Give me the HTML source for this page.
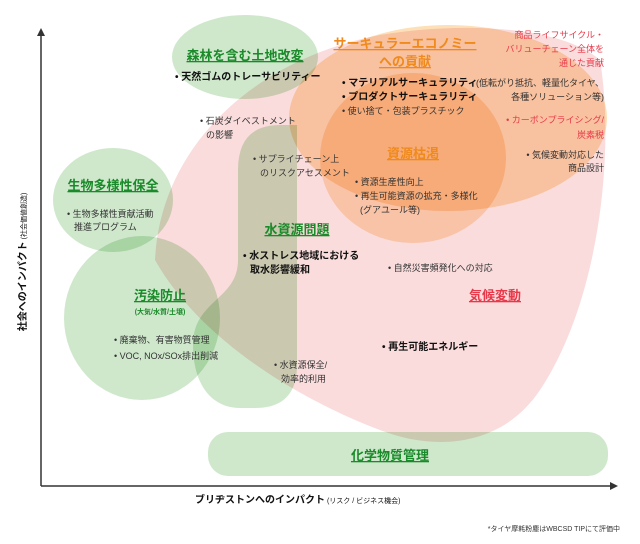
<!DOCTYPE html>
<html><head><meta charset="utf-8"><style>
html,body{margin:0;padding:0;background:#fff;}
svg{display:block;font-family:"Liberation Sans","Noto Sans CJK JP",sans-serif;}
.m{mix-blend-mode:multiply;}
.g{fill:#1a8a2a;font-weight:bold;text-decoration:underline;}
.o{fill:#f08a1c;font-weight:bold;text-decoration:underline;}
.r{fill:#e8394a;}
.b{font-weight:bold;fill:#111;font-size:10px;}
.s{fill:#333;font-size:9px;}
</style></head><body>
<svg width="640" height="544" viewBox="0 0 640 544">
<rect width="640" height="544" fill="#fff"/>
<path class="m" d="M155 260 C160 150 250 60 380 35 C460 22 560 25 600 60 C615 150 600 300 540 390 C500 450 430 450 380 430 C300 400 200 340 155 260 Z" fill="#fadcdc"/>
<ellipse class="m" cx="448" cy="118" rx="159" ry="93" fill="#fde0b8"/>
<ellipse class="m" cx="413" cy="158" rx="93" ry="85" fill="#fde2c2"/>
<g fill="#cfe8cc">
<ellipse class="m" cx="245" cy="57" rx="73" ry="42"/>
<ellipse class="m" cx="113" cy="200" rx="60" ry="52"/>
<ellipse class="m" cx="142" cy="318" rx="78" ry="82"/>
<path class="m" d="M238 170 Q238 125 280 125 L297 125 L297 365 Q297 408 255 408 L240 408 C212 408 193 385 193 345 C193 300 238 300 238 260 Z"/>
<rect class="m" x="208" y="432" width="400" height="44" rx="20"/>
</g>
<line x1="41" y1="34" x2="41" y2="486" stroke="#333" stroke-width="1.5"/>
<line x1="41" y1="486" x2="612" y2="486" stroke="#333" stroke-width="1.5"/>
<path d="M41 28 L37 36 L45 36 Z" fill="#333"/>
<path d="M618 486 L610 482 L610 490 Z" fill="#333"/>
<text x="245" y="60" class="g" font-size="13" text-anchor="middle">森林を含む土地改変</text>
<text x="175" y="80" class="b">• 天然ゴムのトレーサビリティー</text>
<text x="200" y="124" class="s">• 石炭ダイベストメント</text>
<text x="206" y="138" class="s">の影響</text>
<text x="253" y="162" class="s">• サプライチェーン上</text>
<text x="260" y="176" class="s">のリスクアセスメント</text>
<text x="113" y="190" class="g" font-size="13" text-anchor="middle">生物多様性保全</text>
<text x="67" y="217" class="s">• 生物多様性貢献活動</text>
<text x="74" y="230" class="s">推進プログラム</text>
<text x="297" y="234" class="g" font-size="13" text-anchor="middle">水資源問題</text>
<text x="243" y="259" class="b">• 水ストレス地域における</text>
<text x="250" y="273" class="b">取水影響緩和</text>
<text x="405" y="48" class="o" font-size="13" text-anchor="middle">サーキュラーエコノミー</text>
<text x="405" y="66" class="o" font-size="13" text-anchor="middle">への貢献</text>
<text x="342" y="86" class="b">• マテリアルサーキュラリティ</text>
<text x="342" y="100" class="b">• プロダクトサーキュラリティ</text>
<text x="342" y="114" class="s">• 使い捨て・包装プラスチック</text>
<text x="413" y="158" class="o" font-size="13" text-anchor="middle">資源枯渇</text>
<text x="355" y="185" class="s">• 資源生産性向上</text>
<text x="355" y="199" class="s">• 再生可能資源の拡充・多様化</text>
<text x="360" y="213" class="s">(グアユール等)</text>
<g text-anchor="end" font-size="9">
<text x="604" y="38" class="r">商品ライフサイクル・</text>
<text x="604" y="52" class="r">バリューチェーン全体を</text>
<text x="604" y="66" class="r">通じた貢献</text>
<text x="604" y="86" fill="#333">(低転がり抵抗、軽量化タイヤ、</text>
<text x="604" y="100" fill="#333">各種ソリューション等)</text>
<text x="604" y="123" class="r">• カーボンプライシング/</text>
<text x="604" y="138" class="r">炭素税</text>
<text x="604" y="158" fill="#333">• 気候変動対応した</text>
<text x="604" y="171" fill="#333">商品設計</text>
</g>
<text x="388" y="271" class="s">• 自然災害頻発化への対応</text>
<text x="495" y="300" class="r" font-size="13" font-weight="bold" text-decoration="underline" text-anchor="middle">気候変動</text>
<text x="160" y="300" class="g" font-size="13" text-anchor="middle">汚染防止</text>
<text x="160" y="314" fill="#1a8a2a" font-size="7" font-weight="bold" text-anchor="middle">(大気/水質/土壌)</text>
<text x="114" y="343" class="s">• 廃棄物、有害物質管理</text>
<text x="114" y="359" class="s">• VOC, NOx/SOx排出削減</text>
<text x="274" y="368" class="s">• 水資源保全/</text>
<text x="281" y="382" class="s">効率的利用</text>
<text x="382" y="350" class="b">• 再生可能エネルギー</text>
<text x="390" y="460" class="g" font-size="13" text-anchor="middle">化学物質管理</text>
<text x="195" y="503" class="b" font-size="11">ブリヂストンへのインパクト<tspan font-size="7" font-weight="normal"> (リスク / ビジネス機会)</tspan></text>
<text transform="translate(26 262) rotate(-90)" text-anchor="middle" class="b" font-size="11">社会へのインパクト<tspan font-size="7" font-weight="normal"> (社会価値創造)</tspan></text>
<text x="620" y="531" text-anchor="end" font-size="7" fill="#333">*タイヤ摩耗粉塵はWBCSD TIPにて評価中</text>
</svg>
</body></html>
